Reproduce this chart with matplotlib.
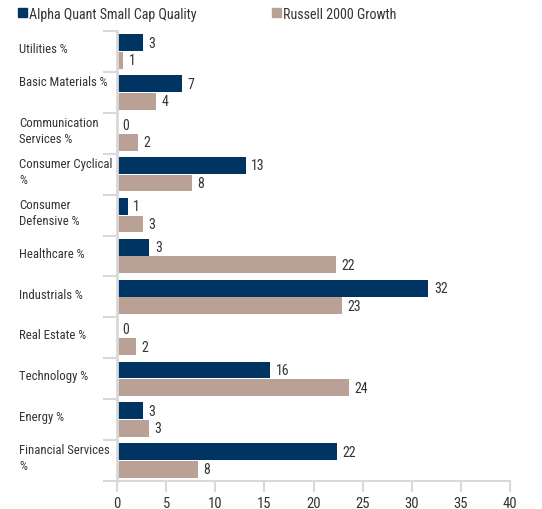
import matplotlib
matplotlib.use('Agg')
import matplotlib.pyplot as plt
import matplotlib.transforms as mtransforms
from matplotlib.patches import Patch
import numpy as np

plt.rcParams['font.family'] = ['Roboto Condensed', 'DejaVu Sans']

categories = ['Utilities %', 'Basic Materials %\n', 'Communication\nServices %',
              'Consumer Cyclical\n%', 'Consumer\nDefensive %', 'Healthcare %',
              'Industrials %', 'Real Estate %', 'Technology %', 'Energy %',
              'Financial Services\n%']
alpha_vals = [2.6, 6.6, 0, 13.1, 1.1, 3.3, 31.7, 0, 15.6, 2.6, 22.4]
russell_vals = [0.6, 4.0, 2.1, 7.6, 2.6, 22.3, 22.9, 1.9, 23.6, 3.2, 8.2]
series_names = ['Alpha Quant Small Cap Quality', 'Russell 2000 Growth']
xticks = [0, 5, 10, 15, 20, 25, 30, 35, 40]

navy = '#003462'
tan = '#b9a196'
grey = '#d9d9d9'
txt = '#333333'

fig = plt.figure(figsize=(5.42, 5.10), dpi=100)
ax = fig.add_axes([0.216, 0.055, 0.725, 0.882])

y = np.arange(len(categories))
h = 0.41
ax.barh(y - 0.215, alpha_vals, height=h, color=navy)
ax.barh(y + 0.215, russell_vals, height=h, color=tan)

for yi, v in zip(y, alpha_vals):
    ax.annotate(f'{v:.0f}', (v, yi - 0.215), xytext=(4, 0), textcoords='offset points',
                va='center', ha='left', fontsize=10, color=txt)
for yi, v in zip(y, russell_vals):
    ax.annotate(f'{v:.0f}', (v, yi + 0.215), xytext=(4, 0), textcoords='offset points',
                va='center', ha='left', fontsize=10, color=txt)

ax.set_xlim(0, 40)
ax.set_ylim(len(categories) - 0.5, -0.5)
ax.set_xticks(xticks)
ax.set_xticklabels([str(t) for t in xticks], fontsize=10.5, color=txt)
ax.tick_params(axis='x', length=8, width=1.5, color=grey, pad=3)

ax.set_yticks(np.arange(len(categories) + 1) - 0.5)
ax.set_yticklabels([])
ax.tick_params(axis='y', length=10, width=1.5, color=grey)

for s in ['top', 'right']:
    ax.spines[s].set_visible(False)
ax.spines['left'].set_color(grey)
ax.spines['left'].set_linewidth(2)
ax.spines['bottom'].set_color(grey)
ax.spines['bottom'].set_linewidth(1.5)

trans = mtransforms.blended_transform_factory(fig.transFigure, ax.transData)
for yi, c in zip(y, categories):
    ax.text(19 / 542, yi - 0.07, c, transform=trans, ha='left', va='center',
            fontsize=9.2, color=txt, linespacing=1.35)

handles = [Patch(color=navy), Patch(color=tan)]
fig.legend(handles, series_names, loc='center left', bbox_to_anchor=(0.034, 0.971),
           ncol=2, frameon=False, fontsize=10.1, handlelength=0.6, handleheight=0.6,
           handletextpad=0.15, columnspacing=5.4, borderpad=0, borderaxespad=0,
           labelcolor=txt)

fig.savefig('out.png', dpi=100)
